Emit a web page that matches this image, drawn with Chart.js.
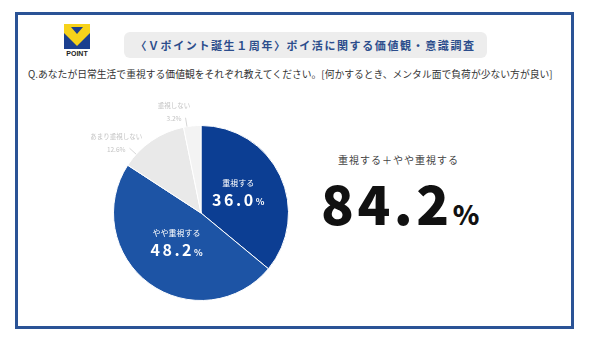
<!DOCTYPE html>
<html>
<head>
<meta charset="utf-8">
<script src="https://cdn.jsdelivr.net/npm/chart.js@4.4.1/dist/chart.umd.min.js"></script>
<style>
  body { margin: 0; background: #fff; }
  #page { position: relative; width: 590px; height: 338px; overflow: hidden; font-family: 'Noto Sans CJK JP', 'Noto Sans', sans-serif; }
  #frame { position: absolute; left: 15px; top: 12px; width: 553px; height: 311px; border: 3px solid #2a5396; }
  #logo { position: absolute; left: 64px; top: 24px; }
  #logoText { position: absolute; left: 60px; top: 50px; width: 34px; text-align: center; font: bold 7px 'Liberation Sans', sans-serif; color: #222; }
  #title { position: absolute; left: 124px; top: 32px; width: 363px; height: 26px; background: #ededed; border-radius: 6px;
           text-align: center; line-height: 26px; font-size: 11px; font-weight: bold; color: #2c4d8c; letter-spacing: 1.6px; }
  #question { position: absolute; left: 28px; top: 67px; font-size: 9.8px; color: #333; white-space: nowrap; }
  #sumLabel { position: absolute; left: 338px; top: 152px; font-size: 10px; color: #444; letter-spacing: 1px; }
  #sumValue { position: absolute; left: 321px; top: 162px; font-size: 54px; font-weight: 900; color: #111; letter-spacing: 3.5px; white-space: nowrap; }
  #sumValue span { font-size: 27px; letter-spacing: 0; }
  #chartBox { position: absolute; left: 0; top: 0; width: 590px; height: 338px; }
</style>
</head>
<body>
<div id="page">
  <div id="frame"></div>
  <svg id="logo" width="26" height="25" viewBox="0 0 26 25">
    <rect width="26" height="25" fill="#1b3f8f"/>
    <polygon points="0,0 26,0 26,9 13,22 0,9" fill="#f6d21a"/>
    <polygon points="7,3 19,3 13,10" fill="#1b3f8f"/>
  </svg>
  <div id="logoText">POINT</div>
  <div id="title">〈Ｖポイント誕生１周年〉ポイ活に関する価値観・意識調査</div>
  <div id="question">Q.あなたが日常生活で重視する価値観をそれぞれ教えてください。[何かするとき、メンタル面で負荷が少ない方が良い]</div>
  <div id="sumLabel">重視する＋やや重視する</div>
  <div id="sumValue"><span id="sumNum"></span></div>
  <div id="chartBox"><canvas id="pieChart"></canvas></div>
</div>
<script>
const categories = ['重視する', 'やや重視する', 'あまり重視しない', '重視しない'];
const shares = [36.0, 48.2, 12.6, 3.2];
const sliceColors = ['#0c3e93', '#1d54a5', '#e9e9e9', '#f3f3f3'];

// big total on the right = first two answers
const total = shares[0] + shares[1];
document.getElementById('sumValue').innerHTML = total.toFixed(1) + '<span>%</span>';

const labelPlugin = {
  id: 'sliceLabels',
  afterDatasetsDraw(chart) {
    const ctx = chart.ctx;
    const arcs = chart.getDatasetMeta(0).data;
    ctx.save();
    arcs.forEach((arc, i) => {
      const r = arc.outerRadius;
      const pct = shares[i].toFixed(1);
      if (i < 2) {
        // inside labels
        const mid = (arc.startAngle + arc.endAngle) / 2;
        const x = arc.x + Math.cos(mid) * r * 0.47;
        const y = arc.y + Math.sin(mid) * r * 0.47;
        ctx.fillStyle = '#fff';
        ctx.textAlign = 'center';
        ctx.textBaseline = 'middle';
        ctx.font = "8px 'Noto Sans CJK JP'";
        ctx.fillText(categories[i], x, y - 13);
        ctx.font = "bold 16px 'Noto Sans CJK JP'";
        ctx.letterSpacing = '2.5px';
        const w1 = ctx.measureText(pct).width;
        ctx.font = "bold 9px 'Noto Sans CJK JP'";
        ctx.letterSpacing = '0px';
        const w2 = ctx.measureText('%').width;
        const sx = x - (w1 + w2) / 2;
        ctx.textAlign = 'left';
        ctx.font = "bold 16px 'Noto Sans CJK JP'";
        ctx.letterSpacing = '2.5px';
        ctx.fillText(pct, sx, y + 4);
        ctx.letterSpacing = '0px';
        ctx.font = "bold 9px 'Noto Sans CJK JP'";
        ctx.fillText('%', sx + w1, y + 6);
      } else {
        // outside labels with leader lines
        const a = arc.startAngle + (arc.endAngle - arc.startAngle) * 0.2;
        const x0 = arc.x + Math.cos(a) * r;
        const y0 = arc.y + Math.sin(a) * r;
        const x1 = arc.x + Math.cos(a) * (r + 9);
        const y1 = arc.y + Math.sin(a) * (r + 9);
        ctx.strokeStyle = '#d6d6d6';
        ctx.lineWidth = 1;
        ctx.beginPath();
        ctx.moveTo(x0, y0);
        ctx.lineTo(x1, y1);
        ctx.stroke();
        ctx.fillStyle = '#c4c4c4';
        ctx.font = "6.5px 'Noto Sans CJK JP'";
        const txt = pct + '%';
        const w = ctx.measureText(txt).width;
        const cx = x1 - 4 - w / 2;
        ctx.textAlign = 'center';
        ctx.textBaseline = 'middle';
        ctx.fillText(txt, cx, y1 + 1);
        ctx.fillText(categories[i], cx, y1 - 12);
      }
    });
    ctx.restore();
  }
};

new Chart(document.getElementById('pieChart'), {
  type: 'pie',
  data: {
    labels: categories,
    datasets: [{
      data: shares,
      backgroundColor: sliceColors,
      borderColor: '#fff',
      borderWidth: 1
    }]
  },
  options: {
    responsive: true,
    maintainAspectRatio: false,
    animation: false,
    layout: { padding: { left: 113, right: 301, top: 125, bottom: 37 } },
    plugins: {
      legend: { display: false },
      tooltip: { enabled: false }
    }
  },
  plugins: [labelPlugin]
});
</script>
</body>
</html>
